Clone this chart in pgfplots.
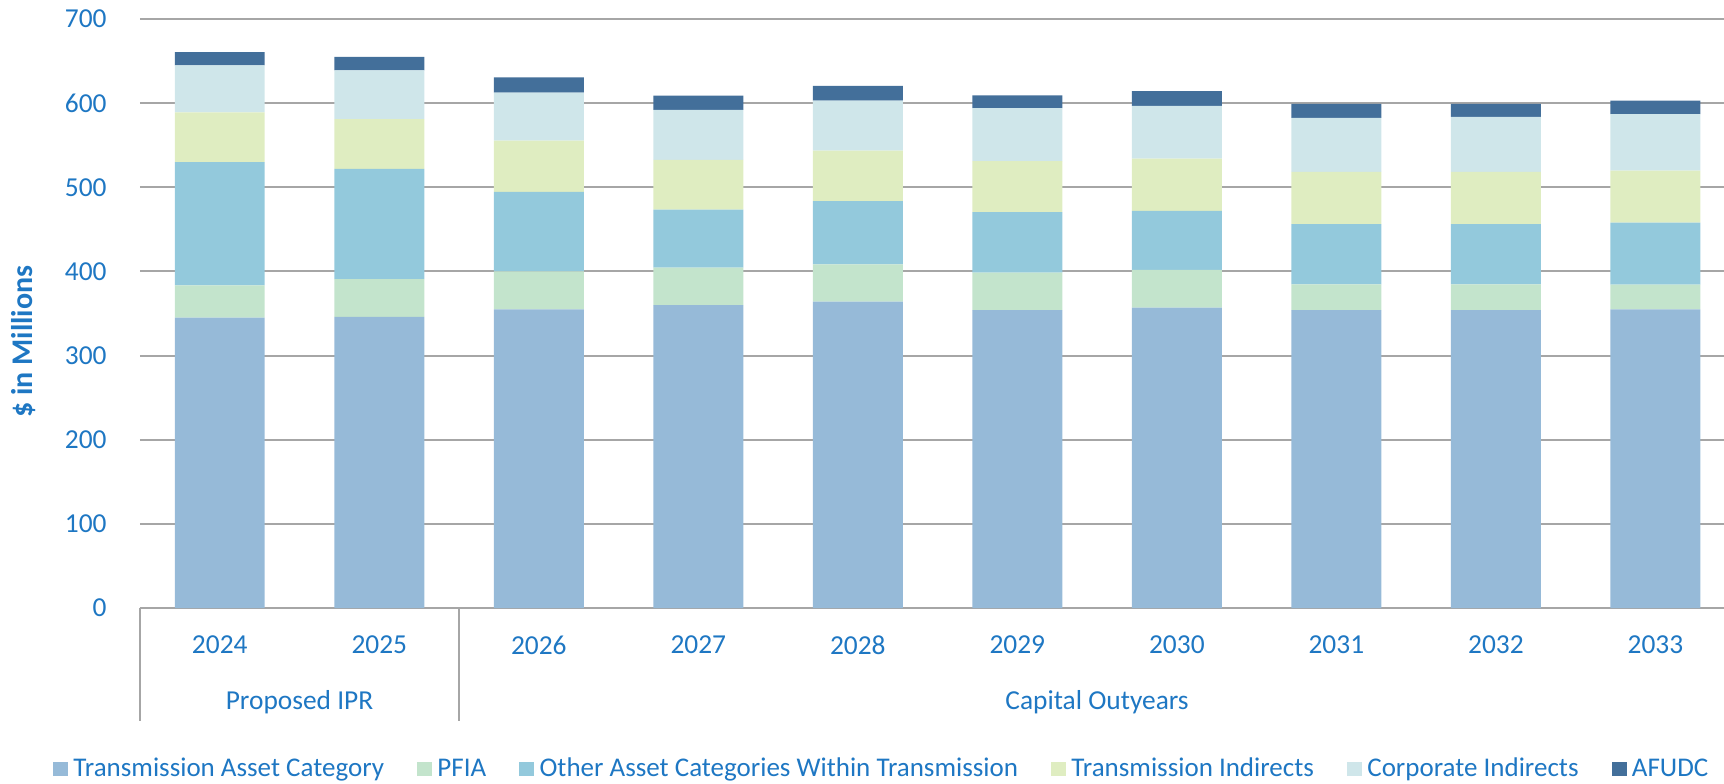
\documentclass[border=0pt]{standalone}
\usepackage{fontspec}
\setmainfont{Carlito}
\usepackage{pgfplots}
\pgfplotsset{compat=1.18}
\usepackage{pgfplotstable}
\definecolor{ctext}{RGB}{30,119,195}
\definecolor{cgrid}{RGB}{166,166,166}
\definecolor{ctac}{RGB}{150,186,216}
\definecolor{cpfia}{RGB}{195,228,204}
\definecolor{cother}{RGB}{147,201,220}
\definecolor{cti}{RGB}{223,237,193}
\definecolor{cci}{RGB}{207,230,234}
\definecolor{cafudc}{RGB}{67,111,154}
\pgfplotstableread{
x tac pfia other ti ci afudc
0 345 38.4 146.6 59.0 55.8 15.9
1 346 45.0 131.0 59.0 58.0 16.0
2 355 45.0 94.5 61.0 57.0 18.0
3 360 44.5 69.0 59.0 59.5 17.0
4 364 44.5 75.0 60.0 59.5 17.4
5 354 44.5 72.0 60.5 63.0 15.4
6 357 45.0 70.0 62.0 62.8 17.5
7 354 30.5 71.7 62.2 64.0 16.7
8 354 30.5 71.7 62.2 65.3 15.5
9 355 29.3 73.7 61.8 67.3 15.9
}\data
\begin{document}
\begin{tikzpicture}
\useasboundingbox (-70pt,-87.5pt) rectangle (792pt,304pt);
\begin{axis}[
  at={(0pt,0pt)}, anchor=south west,
  width=792pt, height=294.5pt, scale only axis,
  clip=false,
  ybar stacked, bar width=0.564,
  xmin=-0.5, xmax=9.43, ymin=0, ymax=700,
  ytick={0,100,...,700},
  xtick={0,...,9}, xticklabels={2024,2025,2026,2027,2028,2029,2030,2031,2032,2033},
  ymajorgrids, grid style={draw=cgrid, line width=1pt},
  major tick length=0pt,
  axis x line*=bottom, axis y line*=left,
  x axis line style={draw=cgrid, line width=1pt, -},
  y axis line style={draw=none},
  tick label style={font=\fontsize{13.7}{16}\selectfont, text=ctext},
  /pgf/number format/assume math mode=true,
  yticklabel style={anchor=east, inner sep=0pt, xshift=-16.5pt},
  xticklabel style={anchor=center, inner sep=0pt, yshift=-18.5pt},
  ylabel={\$ in Millions},
  ylabel style={font=\bfseries\fontsize{15}{18}\selectfont, text=ctext, at={(axis description cs:-0.0732,0.452)}, anchor=center},
  legend style={at={(axis description cs:0.4676,-0.2733)}, anchor=center, draw=none, fill=none,
    font=\fontsize{13.5}{16}\selectfont, text=ctext,
    /tikz/every even column/.append style={column sep=16.5pt},
    /tikz/every odd column/.append style={column sep=2.7pt},
    nodes={inner sep=0pt}},
  legend columns=-1,
  legend image code/.code={\fill[#1] (0pt,-3.6pt) rectangle (7.5pt,3.6pt);},
]
\addplot[fill=ctac, draw=none] table[x=x, y=tac] {\data};
\addplot[fill=cpfia, draw=none] table[x=x, y=pfia] {\data};
\addplot[fill=cother, draw=none] table[x=x, y=other] {\data};
\addplot[fill=cti, draw=none] table[x=x, y=ti] {\data};
\addplot[fill=cci, draw=none] table[x=x, y=ci] {\data};
\addplot[fill=cafudc, draw=none] table[x=x, y=afudc] {\data};
\legend{Transmission Asset Category, PFIA, Other Asset Categories Within Transmission, Transmission Indirects, Corporate Indirects, AFUDC}
\draw[cgrid, line width=1pt] (axis cs:-0.5,0) -- ++(0pt,-56.5pt);
\draw[cgrid, line width=1pt] (axis cs:1.5,0) -- ++(0pt,-56.5pt);
\node[font=\fontsize{13.7}{16}\selectfont, text=ctext, inner sep=0pt, yshift=-47pt] at (axis cs:0.5,0) {Proposed IPR};
\node[font=\fontsize{13.7}{16}\selectfont, text=ctext, inner sep=0pt, yshift=-47pt] at (axis cs:5.5,0) {Capital Outyears};
\end{axis}
\end{tikzpicture}
\end{document}
